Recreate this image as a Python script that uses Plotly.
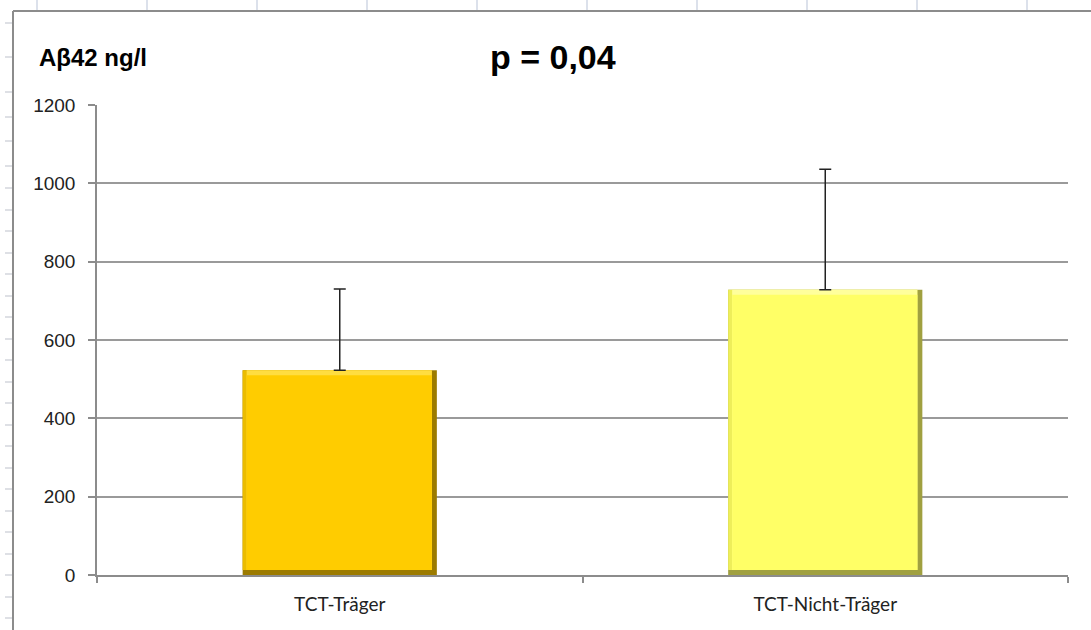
import plotly.graph_objects as go

# ---- data ----
categories = ["TCT-Träger", "TCT-Nicht-Träger"]
means = [523, 728]
sd_plus = [207, 308]
y_ticks = [0, 200, 400, 600, 800, 1000, 1200]

main_colors = ["#FFCC00", "#FFFF66"]
edge_colors = ["#9C7B00", "#A0A040"]
side_colors = ["#EBBC00", "#EEEE5A"]
top_colors = ["#FFDD40", "#FFFF9C"]

W, H = 1091, 630
L, R, T, B = 97, 23, 105, 55
pw, ph = W - L - R, H - T - B

def px_x(px):
    return (px - L) / pw

def px_y(py):
    return (H - B - py) / ph

# bevel sizes (category units / data units)
cat_px = pw / len(categories)
unit_px = ph / 1200.0
BW = 0.4
right_band = 5 / cat_px
left_band = 4 / cat_px
bottom_band = 5 / unit_px
top_band = 5 / unit_px

fig = go.Figure()

# dark bevel layer (right/bottom edges)
fig.add_trace(go.Bar(
    x=categories, y=means, width=BW, offset=-BW / 2,
    marker=dict(color=edge_colors, line=dict(width=0)),
    hoverinfo="skip", showlegend=False,
))
# left side tone
fig.add_trace(go.Bar(
    x=categories, y=[m - bottom_band for m in means], base=bottom_band,
    width=BW - right_band, offset=-BW / 2,
    marker=dict(color=side_colors, line=dict(width=0)),
    hoverinfo="skip", showlegend=False,
))
# light top strip
fig.add_trace(go.Bar(
    x=categories, y=[m - bottom_band for m in means], base=bottom_band,
    width=BW - right_band - left_band, offset=-BW / 2 + left_band,
    marker=dict(color=top_colors, line=dict(width=0)),
    hoverinfo="skip", showlegend=False,
))
# main face
fig.add_trace(go.Bar(
    x=categories, y=[m - bottom_band - top_band for m in means], base=bottom_band,
    width=BW - right_band - left_band, offset=-BW / 2 + left_band,
    marker=dict(color=main_colors, line=dict(width=0)),
    showlegend=False,
))
# error bars
fig.add_trace(go.Scatter(
    x=categories, y=means, mode="markers",
    marker=dict(size=1, color="rgba(0,0,0,0)"),
    error_y=dict(type="data", array=sd_plus, symmetric=False, arrayminus=[0, 0],
                 color="#222222", thickness=1.5, width=6),
    showlegend=False, hoverinfo="skip",
))

shapes = []
# chart frame (left & top borders)
shapes.append(dict(type="line", xref="paper", yref="paper",
                   x0=px_x(13), x1=px_x(13), y0=px_y(11), y1=px_y(640),
                   line=dict(color="#8C8C8C", width=2)))
shapes.append(dict(type="line", xref="paper", yref="paper",
                   x0=px_x(13), x1=px_x(1095), y0=px_y(11), y1=px_y(11),
                   line=dict(color="#8C8C8C", width=2)))
# spreadsheet column dividers at top
for cx in range(37, 1091, 110):
    shapes.append(dict(type="line", xref="paper", yref="paper",
                       x0=px_x(cx), x1=px_x(cx), y0=px_y(0), y1=px_y(10),
                       line=dict(color="#D0D7E5", width=1.5)))
# spreadsheet row dividers at left
for ry in [23, 57, 92, 117, 141, 166, 188, 210, 231, 253, 274, 296, 317, 339, 360, 382, 403, 425, 446, 468, 489, 511, 532, 554, 575, 597, 618]:
    shapes.append(dict(type="line", xref="paper", yref="paper",
                       x0=px_x(5), x1=px_x(12), y0=px_y(ry), y1=px_y(ry),
                       line=dict(color="#C8CCD4", width=1.2)))

fig.update_layout(
    width=W, height=H,
    margin=dict(l=L, r=R, t=T, b=B, pad=0),
    paper_bgcolor="white", plot_bgcolor="white",
    barmode="overlay",
    shapes=shapes,
    annotations=[
        dict(text="<b>p = 0,04</b>", xref="paper", yref="paper",
             x=px_x(553), y=px_y(57), xanchor="center", yanchor="middle",
             showarrow=False, font=dict(family="Liberation Sans, Arial", size=34, color="#000000")),
        dict(text="<b>Aβ42 ng/l</b>", xref="paper", yref="paper",
             x=px_x(37), y=px_y(57), xanchor="left", yanchor="middle",
             showarrow=False, font=dict(family="Liberation Sans, Arial", size=24, color="#000000")),
    ],
    yaxis=dict(
        range=[0, 1200], tickvals=y_ticks, ticktext=[str(v) for v in y_ticks],
        showgrid=True, gridcolor="#9A9A9A", gridwidth=1.5,
        showline=True, linecolor="#8C8C8C", linewidth=1.5,
        ticks="outside", ticklen=7, tickcolor="#8C8C8C", tickwidth=1.5,
        ticklabelstandoff=9,
        tickfont=dict(family="Liberation Sans, Arial", size=19, color="#222222"),
        zeroline=False, fixedrange=True,
    ),
    xaxis=dict(
        showline=True, linecolor="#8C8C8C", linewidth=1.5,
        ticks="outside", ticklen=6, tickcolor="#8C8C8C", tickwidth=1.5,
        tickson="boundaries",
        ticklabelstandoff=11,
        tickfont=dict(family="Lato, Open Sans, sans-serif", size=19, color="#222222"),
        showgrid=False, fixedrange=True,
    ),
)

fig.write_html("out.html", config={"displayModeBar": False},
               post_script="document.body.style.margin='0px';")
